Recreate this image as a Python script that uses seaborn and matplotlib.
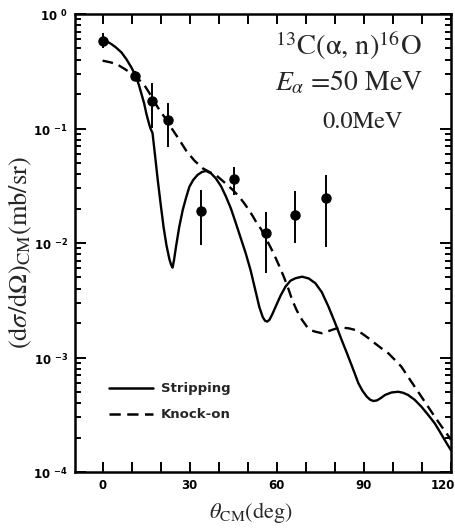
import matplotlib
matplotlib.use("Agg")
import matplotlib.pyplot as plt
import matplotlib.transforms as mtransforms
from matplotlib.ticker import MultipleLocator, LogLocator, NullFormatter
import pandas as pd
import seaborn as sns

# Stripping calculation: angle (deg) and cross section (mb/sr)
theta_strip = [0, 1.5, 3.0, 4.5, 6.5, 8.2, 9.9, 10.8, 11.6, 12.5, 13.4, 14.3,
               15.1, 16.0, 16.5, 17.2, 18.0, 19.0, 20.0, 21.0, 22.0, 23.0,
               23.6, 24.1, 24.6, 25.3, 26.4, 27.6, 28.8, 29.9, 31.2, 32.7,
               34.2, 35.6, 37.3, 39.0, 40.8, 42.5, 44.2, 45.9, 47.6, 49.3,
               51.0, 52.5, 54.0, 55.2, 56.0, 56.7, 57.5, 58.5, 59.6, 61.3,
               63.0, 64.7, 66.4, 68.7, 71.0, 73.3, 75.5, 77.8, 80.1, 82.4,
               84.1, 85.8, 87.0, 88.1, 89.5, 91.0, 92.2, 93.3, 94.5, 95.8,
               97.3, 99.5, 101.8, 103.5, 105.2, 107.5, 109.8, 112.1, 114.4,
               116.1, 117.8, 119.0, 120.0]
xs_strip = [0.585, 0.575, 0.547, 0.513, 0.462, 0.403, 0.342, 0.309, 0.280,
            0.240, 0.200, 0.166, 0.134, 0.110, 0.100, 0.0912, 0.0603, 0.0355,
            0.0219, 0.0138, 0.00955, 0.00724, 0.00646, 0.00610, 0.00708,
            0.00933, 0.0138, 0.0194, 0.0251, 0.0310, 0.0355, 0.0393, 0.0417,
            0.0426, 0.0407, 0.0367, 0.0313, 0.0254, 0.0200, 0.0149, 0.0110,
            0.00813, 0.00575, 0.00398, 0.00275, 0.00224, 0.00209, 0.00206,
            0.00214, 0.00240, 0.00278, 0.00347, 0.00416, 0.00468, 0.00492,
            0.00508, 0.00490, 0.00445, 0.00372, 0.00278, 0.00200, 0.00141,
            0.00110, 0.000851, 0.000708, 0.000596, 0.000513, 0.000455,
            0.000427, 0.000417, 0.000422, 0.000442, 0.000471, 0.000495,
            0.000502, 0.000492, 0.000471, 0.000427, 0.000372, 0.000316,
            0.000266, 0.000226, 0.000191, 0.000170, 0.000155]

# Knock-on calculation
theta_knock = [0, 2.4, 4.8, 7.6, 9.3, 11.1, 12.8, 14.5, 16.7, 19.0, 21.3,
               23.6, 26.2, 28.8, 31.6, 34.5, 36.8, 39.0, 41.0, 43.0, 45.0,
               47.0, 48.7, 50.4, 51.7, 53.0, 54.6, 56.2, 57.9, 59.6, 61.0,
               62.5, 64.0, 65.3, 66.9, 68.7, 70.5, 72.0, 73.3, 75.5, 77.8,
               80.1, 82.5, 84.7, 87.0, 89.2, 91.5, 93.8, 96.1, 98.4, 100.7,
               102.9, 105.2, 107.5, 109.8, 112.1, 114.4, 116.7, 118.9, 120.0]
xs_knock = [0.391, 0.380, 0.366, 0.331, 0.310, 0.289, 0.263, 0.237, 0.193,
            0.153, 0.126, 0.102, 0.0813, 0.0640, 0.0525, 0.0449, 0.0417,
            0.0393, 0.0355, 0.0321, 0.0288, 0.0254, 0.0224, 0.0194, 0.0172,
            0.0151, 0.0132, 0.0110, 0.00912, 0.00741, 0.00617, 0.00501,
            0.00398, 0.00318, 0.00257, 0.00213, 0.00184, 0.00172, 0.00168,
            0.00163, 0.00170, 0.00178, 0.00182, 0.00180, 0.00174, 0.00163,
            0.00148, 0.00133, 0.00120, 0.00109, 0.000951, 0.000832,
            0.000679, 0.000556, 0.000455, 0.000372, 0.000304, 0.000251,
            0.000210, 0.000191]

# Measured points with error-bar limits
theta_exp = [0, 11.1, 17.0, 22.5, 33.9, 45.1, 56.2, 66.4, 77.0]
xs_exp = [0.578, 0.289, 0.173, 0.119, 0.0191, 0.0360, 0.0123, 0.0176, 0.0247]
xs_lo = [0.500, 0.265, 0.101, 0.0689, 0.00961, 0.0262, 0.00543, 0.00993, 0.00929]
xs_hi = [0.680, 0.315, 0.249, 0.167, 0.0290, 0.0464, 0.0188, 0.0284, 0.0393]

model_names = ["Stripping", "Knock-on"]
x_ticks = [0, 30, 60, 90, 120]
y_ticks = [1e-4, 1e-3, 1e-2, 1e-1, 1]
y_exponents = ["-4", "-3", "-2", "-1", "0"]
y_tick_labels = [r"$\mathbf{10}^{\ \ \mathbf{%s}}$" % e for e in y_exponents]

df = pd.concat([
    pd.DataFrame({"theta": theta_strip, "xs": xs_strip, "model": model_names[0]}),
    pd.DataFrame({"theta": theta_knock, "xs": xs_knock, "model": model_names[1]}),
])

sns.set_theme(style="ticks")
plt.rcParams["font.family"] = ["DejaVu Sans"]
plt.rcParams["mathtext.fontset"] = "custom"
plt.rcParams["mathtext.rm"] = "STIXGeneral"
plt.rcParams["mathtext.it"] = "STIXGeneral:italic"
plt.rcParams["mathtext.bf"] = "DejaVu Sans:bold"

fig = plt.figure(figsize=(4.56, 5.29), dpi=100)
ax = fig.add_axes([75 / 456, 1 - 472 / 529, 376 / 456, 458 / 529])

sns.lineplot(data=df, x="theta", y="xs", style="model", style_order=model_names,
             dashes={"Stripping": "", "Knock-on": (4.5, 2.6)}, color="black",
             lw=1.7, sort=False, estimator=None, ax=ax)

yerr = [[v - lo for v, lo in zip(xs_exp, xs_lo)],
        [hi - v for v, hi in zip(xs_exp, xs_hi)]]
ax.errorbar(theta_exp, xs_exp, yerr=yerr, fmt="o", color="black", ms=6.5,
            elinewidth=1.4, capsize=0, zorder=5)

ax.set_yscale("log")
ax.set_xlim(-9.5, 120)
ax.set_ylim(1e-4, 1)

ax.set_xticks(x_ticks, labels=[str(t) for t in x_ticks])
ax.xaxis.set_minor_locator(MultipleLocator(10))
ax.set_yticks(y_ticks, labels=y_tick_labels)
ax.yaxis.set_minor_locator(LogLocator(base=10, subs=range(2, 10)))
ax.yaxis.set_minor_formatter(NullFormatter())

ax.tick_params(which="both", direction="in", top=True, right=True,
               width=1.4, colors="black")
ax.tick_params(axis="x", which="both", length=7, pad=5)
ax.tick_params(axis="y", which="major", length=8, pad=5)
ax.tick_params(axis="y", which="minor", length=4)
for lab in ax.get_xticklabels():
    lab.set_fontweight("bold")
    lab.set_fontsize(8.5)
for lab in ax.get_yticklabels():
    lab.set_fontsize(8.5)
# keep the last x label inside the frame
last = ax.get_xticklabels()[-1]
last.set_transform(last.get_transform() +
                   mtransforms.ScaledTranslation(-8 / 100, 0, fig.dpi_scale_trans))

for sp in ax.spines.values():
    sp.set_linewidth(1.8)
    sp.set_color("black")

ax.set_xlabel(r"$\theta_{\rm CM}$(deg)", fontsize=16, family="STIXGeneral")
ax.xaxis.set_label_coords(0.468, -0.062)
ax.set_ylabel(r"(d$\sigma$/d$\Omega$)$_{\rm CM}$(mb/sr)", fontsize=19,
              family="STIXGeneral")
ax.yaxis.set_label_coords(-0.146, 0.480)
ax.yaxis.label.set_va("center")

ax.text(0.923, 0.910, r"$^{13}$C($\mathrm{\alpha}$, n)$^{16}$O",
        transform=ax.transAxes, ha="right", va="baseline", fontsize=20.5,
        family="STIXGeneral")
ax.text(0.926, 0.834, r"$E_{\alpha}$ =50 MeV", transform=ax.transAxes,
        ha="right", va="baseline", fontsize=20, family="STIXGeneral")
ax.text(0.872, 0.751, "0.0MeV", transform=ax.transAxes,
        ha="right", va="baseline", fontsize=17.5, family="STIXGeneral")

handles, labels = ax.get_legend_handles_labels()
for h in handles:
    h.set_linewidth(1.8)
ax.legend(handles, labels, loc="upper left", bbox_to_anchor=(0.06, 0.222),
          frameon=False, handlelength=3.3, handletextpad=0.6,
          labelspacing=1.0, prop={"weight": "bold", "size": 9.5})

ax.set_facecolor("white")
fig.patch.set_facecolor("white")
fig.savefig("out.png", dpi=100)
